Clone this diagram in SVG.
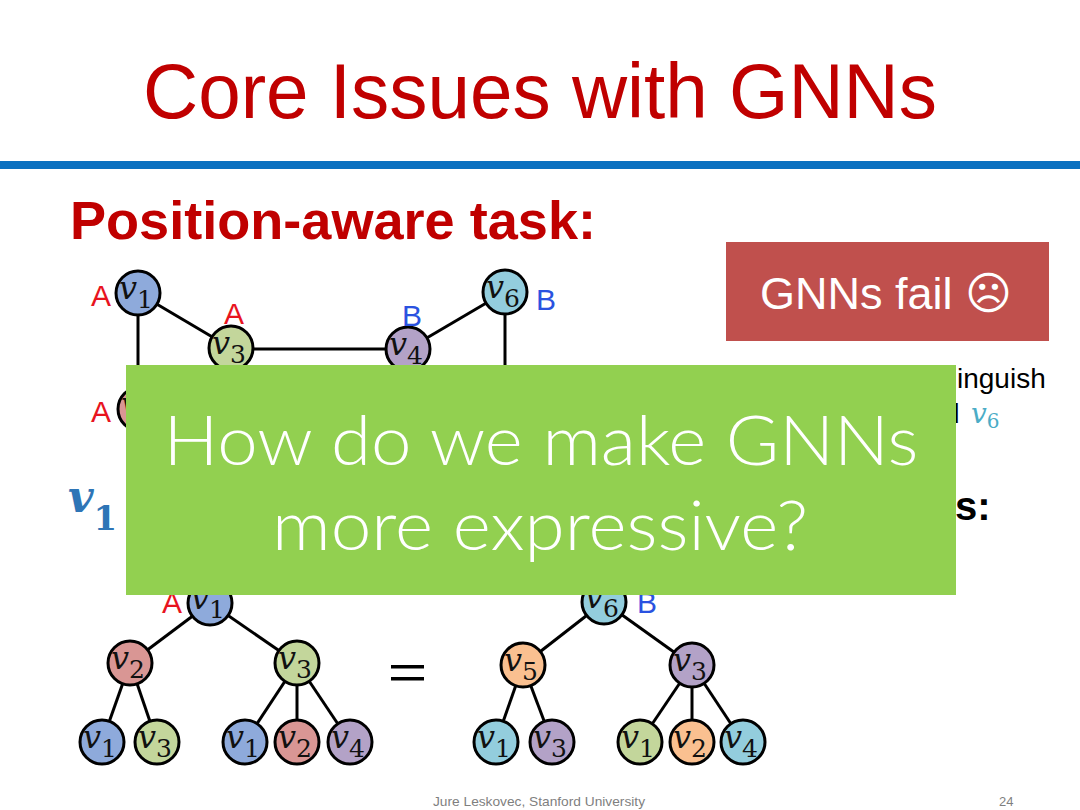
<svg xmlns="http://www.w3.org/2000/svg" width="1080" height="810" viewBox="0 0 1080 810">
<style>
.sans{font-family:"Liberation Sans",Arial,sans-serif}
.edge{stroke:#000;stroke-width:3;fill:none}
.nd{stroke:#000;stroke-width:3}
.b{fill:#8eaadb}.r{fill:#d99694}.g{fill:#c3d69b}.p{fill:#b3a2c7}.o{fill:#fac090}.t{fill:#93cddd}
.vl{font-family:"DejaVu Serif","Liberation Serif",serif;font-style:italic;font-size:32px;fill:#111}
.vs{font-size:25px;font-style:normal}
.la{font-family:"Liberation Sans",Arial,sans-serif;font-size:30px;fill:#e8141e}
.lb{font-family:"Liberation Sans",Arial,sans-serif;font-size:30px;fill:#2a52e0}
</style>
<defs>
<g id="lbl1"><text class="vl" x="-19" y="6">v<tspan class="vs" dy="9">1</tspan></text></g>
<g id="lbl2"><text class="vl" x="-19" y="6">v<tspan class="vs" dy="9">2</tspan></text></g>
<g id="lbl3"><text class="vl" x="-19" y="6">v<tspan class="vs" dy="9">3</tspan></text></g>
<g id="lbl4"><text class="vl" x="-19" y="6">v<tspan class="vs" dy="9">4</tspan></text></g>
<g id="lbl5"><text class="vl" x="-19" y="6">v<tspan class="vs" dy="9">5</tspan></text></g>
<g id="lbl6"><text class="vl" x="-19" y="6">v<tspan class="vs" dy="9">6</tspan></text></g>
</defs>
<rect width="1080" height="810" fill="#fff"/>
<g id="title">
<text class="sans" x="540" y="118" text-anchor="middle" font-size="77" fill="#c00000" textLength="794" lengthAdjust="spacingAndGlyphs">Core Issues with GNNs</text>
<rect x="0" y="161" width="1080" height="8" fill="#0a70c0"/>
</g>
<g id="heading">
<text class="sans" x="70" y="239" font-size="53" font-weight="bold" fill="#c00000" textLength="526" lengthAdjust="spacingAndGlyphs">Position-aware task:</text>
</g>
<g id="connectors">
<line class="edge" x1="138" y1="293" x2="231" y2="348"/>
<line class="edge" x1="231" y1="349" x2="408" y2="349"/>
<line class="edge" x1="408" y1="349" x2="505" y2="292"/>
<line class="edge" x1="138" y1="293" x2="138" y2="409"/>
<line class="edge" x1="505" y1="292" x2="505" y2="380"/>
<line class="edge" x1="210" y1="603" x2="130" y2="663"/>
<line class="edge" x1="210" y1="603" x2="297" y2="663"/>
<line class="edge" x1="130" y1="663" x2="102" y2="742"/>
<line class="edge" x1="130" y1="663" x2="157" y2="742"/>
<line class="edge" x1="297" y1="663" x2="245" y2="742"/>
<line class="edge" x1="297" y1="663" x2="297" y2="742"/>
<line class="edge" x1="297" y1="663" x2="350" y2="742"/>
<line class="edge" x1="604" y1="602" x2="523" y2="665"/>
<line class="edge" x1="604" y1="602" x2="692" y2="665"/>
<line class="edge" x1="523" y1="665" x2="496" y2="742"/>
<line class="edge" x1="523" y1="665" x2="552" y2="742"/>
<line class="edge" x1="692" y1="665" x2="640" y2="742"/>
<line class="edge" x1="692" y1="665" x2="692" y2="742"/>
<line class="edge" x1="692" y1="665" x2="743" y2="742"/>
</g>
<g id="g-v1"><circle class="nd b" cx="138" cy="293" r="22"/><use href="#lbl1" x="138" y="293"/><text class="la" x="91" y="306">A</text></g>
<g id="g-v3"><circle class="nd g" cx="231" cy="348" r="22"/><use href="#lbl3" x="231" y="348"/><text class="la" x="224" y="324">A</text></g>
<g id="g-v4"><circle class="nd p" cx="408" cy="349" r="22"/><use href="#lbl4" x="408" y="349"/><text class="lb" x="402" y="326">B</text></g>
<g id="g-v6"><circle class="nd t" cx="505" cy="292" r="22"/><use href="#lbl6" x="505" y="292"/><text class="lb" x="536" y="310">B</text></g>
<g id="g-v2"><circle class="nd r" cx="140" cy="409" r="22"/><use href="#lbl2" x="140" y="409"/><text class="la" x="91" y="422">A</text></g>
<g id="fail-box">
<rect x="726" y="242" width="323" height="99" fill="#c0504d"/>
<text x="886" y="309" text-anchor="middle" font-size="45" fill="#fff" font-family="Liberation Sans, DejaVu Sans, sans-serif">GNNs fail ☹</text>
</g>
<g id="fail-note">
<text class="sans" x="957" y="388" font-size="28" fill="#000">inguish</text>
<text class="sans" x="944" y="423" font-size="28" fill="#000">d</text>
<text x="971" y="423" font-family="DejaVu Serif, Liberation Serif, serif" font-style="italic" font-size="28" fill="#4bacc6">v<tspan font-style="normal" font-size="20" dy="5">6</tspan></text>
</g>
<g id="heading2">
<text x="68" y="512" font-family="DejaVu Serif, Liberation Serif, serif" font-style="italic" font-weight="bold" font-size="44" fill="#2e75b6">v<tspan font-style="normal" font-size="34" dy="18">1</tspan></text>
<text class="sans" x="955" y="520" font-size="40" font-weight="bold" fill="#000">s:</text>
</g>
<g id="tree-left">
<g id="t1-root"><circle class="nd b" cx="210" cy="603" r="22"/><use href="#lbl1" x="210" y="603"/><text class="la" x="162" y="613">A</text></g>
<g id="t1-v2"><circle class="nd r" cx="130" cy="663" r="22"/><use href="#lbl2" x="130" y="663"/></g>
<g id="t1-v3"><circle class="nd g" cx="297" cy="663" r="22"/><use href="#lbl3" x="297" y="663"/></g>
<g id="t1-l1"><circle class="nd b" cx="102" cy="742" r="22"/><use href="#lbl1" x="102" y="742"/></g>
<g id="t1-l2"><circle class="nd g" cx="157" cy="742" r="22"/><use href="#lbl3" x="157" y="742"/></g>
<g id="t1-l3"><circle class="nd b" cx="245" cy="742" r="22"/><use href="#lbl1" x="245" y="742"/></g>
<g id="t1-l4"><circle class="nd r" cx="297" cy="742" r="22"/><use href="#lbl2" x="297" y="742"/></g>
<g id="t1-l5"><circle class="nd p" cx="350" cy="742" r="22"/><use href="#lbl4" x="350" y="742"/></g>
</g>
<g id="equals">
<rect x="391" y="665" width="33" height="3.5" fill="#000"/>
<rect x="391" y="677" width="33" height="3.5" fill="#000"/>
</g>
<g id="tree-right">
<g id="t2-root"><circle class="nd t" cx="604" cy="602" r="22"/><use href="#lbl6" x="604" y="602"/><text class="lb" x="637" y="613">B</text></g>
<g id="t2-v5"><circle class="nd o" cx="523" cy="665" r="22"/><use href="#lbl5" x="523" y="665"/></g>
<g id="t2-v3"><circle class="nd p" cx="692" cy="665" r="22"/><use href="#lbl3" x="692" y="665"/></g>
<g id="t2-l1"><circle class="nd t" cx="496" cy="742" r="22"/><use href="#lbl1" x="496" y="742"/></g>
<g id="t2-l2"><circle class="nd p" cx="552" cy="742" r="22"/><use href="#lbl3" x="552" y="742"/></g>
<g id="t2-l3"><circle class="nd g" cx="640" cy="742" r="22"/><use href="#lbl1" x="640" y="742"/></g>
<g id="t2-l4"><circle class="nd o" cx="692" cy="742" r="22"/><use href="#lbl2" x="692" y="742"/></g>
<g id="t2-l5"><circle class="nd t" cx="743" cy="742" r="22"/><use href="#lbl4" x="743" y="742"/></g>
</g>
<g id="overlay">
<rect x="126" y="365" width="830" height="230" fill="#92d050"/>
<text x="541" y="465" text-anchor="middle" font-family="Lato, Open Sans, Liberation Sans, sans-serif" font-weight="300" font-size="68" fill="#fff" textLength="755" lengthAdjust="spacingAndGlyphs">How do we make GNNs</text>
<text x="540" y="550" text-anchor="middle" font-family="Lato, Open Sans, Liberation Sans, sans-serif" font-weight="300" font-size="68" fill="#fff" textLength="536" lengthAdjust="spacingAndGlyphs">more expressive?</text>
</g>
<g id="footer">
<text class="sans" x="433" y="806" font-size="13" fill="#7f7f7f" textLength="212" lengthAdjust="spacingAndGlyphs">Jure Leskovec, Stanford University</text>
<text class="sans" x="999" y="806" font-size="13" fill="#7f7f7f">24</text>
</g>
</svg>
